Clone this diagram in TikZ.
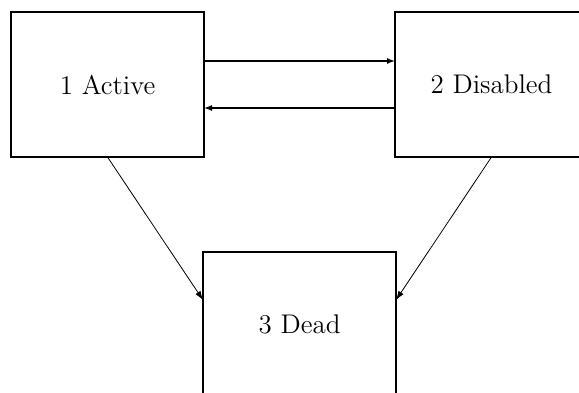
\documentclass[tikz,border=0pt]{standalone}
\usepackage{tikz}
\usetikzlibrary{positioning,arrows.meta}

\tikzset{
  state/.style={draw, line width=1pt, rectangle, minimum width=96.5pt,
    minimum height=72.5pt, inner sep=0pt, outer sep=0pt,
    font=\fontsize{13.5}{16}\selectfont},
  trans/.style={line width=0.7pt, -{Latex[length=4pt,width=3pt]}},
  fall/.style={line width=0.4pt, -{Latex[length=4.5pt,width=3pt]}}
}

\begin{document}
\begin{tikzpicture}
        % Visible area
        \clip (0,0) rectangle (289.5pt,-196pt);
        % States
        \node[state] (act) at (53.75pt,-42.25pt) {1 Active};
        \node[state, right=95.5pt of act] (dis) {2 Disabled};
        \node[state, below=47.5pt of act.south east, anchor=north west, xshift=-0.5pt] (dead) {3 Dead};
        % Transitions
        \draw[trans] ([yshift=11.75pt]act.east) -- ([yshift=11.75pt]dis.west);
        \draw[trans] ([yshift=-11.75pt]dis.west) -- ([yshift=-11.75pt]act.east);
        \draw[fall] (act.south) -- ([yshift=12.25pt]dead.west);
        \draw[fall] (dis.south) -- ([yshift=12.25pt]dead.east);
      \end{tikzpicture}
\end{document}
